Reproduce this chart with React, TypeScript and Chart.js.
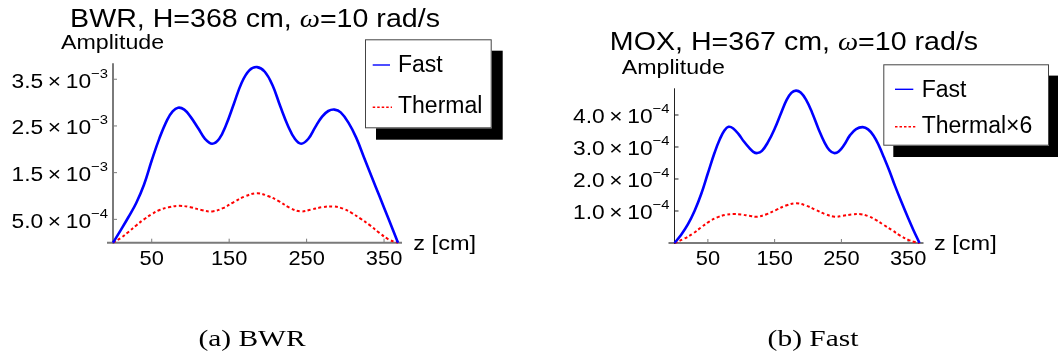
import React, { useEffect, useRef } from "react";
import { Chart, registerables } from "chart.js";

Chart.register(...registerables);

// ---------------- data ----------------
// (a) BWR, H = 368 cm
const bwrFastZ = [0, 10, 20, 30, 40, 50, 60, 70, 77, 84, 92, 100, 110, 119, 128, 137, 146, 156, 166, 176, 186, 196, 206, 216, 226, 235, 243, 252, 261, 270, 278, 286, 294, 304, 314, 324, 334, 344, 356, 368];
const bwrFast = [0, 0.27e-3, 0.55e-3, 0.85e-3, 1.24e-3, 1.76e-3, 2.24e-3, 2.63e-3, 2.81e-3, 2.89e-3, 2.85e-3, 2.7e-3, 2.45e-3, 2.22e-3, 2.12e-3, 2.22e-3, 2.52e-3, 2.97e-3, 3.42e-3, 3.69e-3, 3.76e-3, 3.66e-3, 3.37e-3, 2.92e-3, 2.5e-3, 2.22e-3, 2.12e-3, 2.22e-3, 2.47e-3, 2.7e-3, 2.82e-3, 2.85e-3, 2.79e-3, 2.57e-3, 2.25e-3, 1.83e-3, 1.41e-3, 1.0e-3, 0.5e-3, 0];
const bwrThermalZ = [0, 10, 20, 30, 40, 50, 60, 72, 86, 100, 114, 128, 142, 156, 170, 186, 200, 214, 228, 242, 256, 270, 285, 297, 308, 320, 332, 344, 356, 368];
const bwrThermal = [0, 0.1e-3, 0.23e-3, 0.37e-3, 0.5e-3, 0.61e-3, 0.7e-3, 0.76e-3, 0.79e-3, 0.76e-3, 0.7e-3, 0.67e-3, 0.74e-3, 0.87e-3, 0.99e-3, 1.06e-3, 1.0e-3, 0.89e-3, 0.75e-3, 0.67e-3, 0.71e-3, 0.76e-3, 0.775e-3, 0.73e-3, 0.64e-3, 0.51e-3, 0.37e-3, 0.21e-3, 0.07e-3, 0];
const bwrYTicks = [5e-4, 1.5e-3, 2.5e-3, 3.5e-3];
const bwrYMant = ["5.0", "1.5", "2.5", "3.5"];
const bwrYExp = ["\u22124", "\u22123", "\u22123", "\u22123"];

// (b) MOX, H = 367 cm
const moxFastZ = [0, 10, 20, 30, 40, 50, 60, 68, 75, 81, 88, 96, 104, 112, 118, 124, 131, 140, 150, 160, 168, 175, 182, 189, 197, 206, 216, 225, 232, 239, 246, 254, 263, 272, 282, 290, 298, 306, 314, 322, 330, 340, 350, 358, 367];
const moxFast = [0, 0.26e-4, 0.58e-4, 1.0e-4, 1.53e-4, 2.18e-4, 2.82e-4, 3.25e-4, 3.52e-4, 3.63e-4, 3.58e-4, 3.4e-4, 3.17e-4, 2.97e-4, 2.85e-4, 2.81e-4, 2.88e-4, 3.15e-4, 3.57e-4, 4.08e-4, 4.47e-4, 4.69e-4, 4.76e-4, 4.7e-4, 4.48e-4, 4.08e-4, 3.55e-4, 3.13e-4, 2.9e-4, 2.81e-4, 2.86e-4, 3.06e-4, 3.37e-4, 3.56e-4, 3.62e-4, 3.55e-4, 3.36e-4, 3.05e-4, 2.66e-4, 2.25e-4, 1.8e-4, 1.28e-4, 0.78e-4, 0.4e-4, 0];
const moxThermalZ = [0, 14, 28, 40, 52, 64, 76, 88, 100, 112, 123, 138, 152, 167, 182, 197, 212, 226, 240, 252, 266, 279, 290, 301, 313, 326, 338, 351, 360, 367];
const moxThermal6 = [0, 0.13e-4, 0.3e-4, 0.49e-4, 0.67e-4, 0.8e-4, 0.88e-4, 0.905e-4, 0.89e-4, 0.85e-4, 0.82e-4, 0.9e-4, 1.03e-4, 1.17e-4, 1.24e-4, 1.17e-4, 1.03e-4, 0.9e-4, 0.82e-4, 0.85e-4, 0.89e-4, 0.9e-4, 0.84e-4, 0.73e-4, 0.57e-4, 0.4e-4, 0.23e-4, 0.09e-4, 0.03e-4, 0];
const moxYTicks = [1e-4, 2e-4, 3e-4, 4e-4];
const moxYMant = ["1.0", "2.0", "3.0", "4.0"];
const moxYExp = ["\u22124", "\u22124", "\u22124", "\u22124"];

const xTicks = [50, 150, 250, 350];
const xTickLabels = ["50", "150", "250", "350"];

const FAST_COLOR = "#0000ff";
const THERMAL_COLOR = "#ff0000";
const SANS = "'Liberation Sans', Arial, sans-serif";
const SERIF = "'Liberation Serif', 'Times New Roman', serif";

// ---------------- helpers ----------------
function drawText(ctx: CanvasRenderingContext2D, s: string, x: number, y: number, font: string, align: string, sx = 1, color = "#000") {
  ctx.save();
  ctx.font = font;
  ctx.fillStyle = color;
  ctx.textBaseline = "alphabetic";
  ctx.textAlign = "left";
  const w = ctx.measureText(s).width * sx;
  const x0 = align === "center" ? x - w / 2 : align === "right" ? x - w : x;
  ctx.translate(x0, y);
  ctx.scale(sx, 1);
  ctx.fillText(s, 0, 0);
  ctx.restore();
  return w;
}

function measure(ctx: CanvasRenderingContext2D, s: string, font: string) {
  ctx.save();
  ctx.font = font;
  const w = ctx.measureText(s).width;
  ctx.restore();
  return w;
}

type Spec = {
  name: string;
  zMax: number;
  yMax: number;
  fastZ: number[];
  fast: number[];
  thermZ: number[];
  therm: number[];
  yTicks: number[];
  yMant: string[];
  yExp: string[];
  padding: { left: number; top: number; right: number; bottom: number };
  titlePre: string;
  titleX: number;
  titleY: number;
  ampX: number;
  ampY: number;
  zLabX: number;
  yAxisColor: string;
  yAxisWidth: number;
  legend: {
    x: number; y: number; w: number; h: number; sdx: number; sdy: number;
    sx0: number; sx1: number; tx: number; r1: number; b1: number; r2: number; b2: number;
    labels: string[];
  };
  caption: string;
  captionX: number;
};

function makePlugin(spec: Spec) {
  return {
    id: "decor_" + spec.name,
    beforeDatasetsDraw(chart: any) {
      const ctx: CanvasRenderingContext2D = chart.ctx;
      const a = chart.chartArea;
      const xs = chart.scales.x;
      const ys = chart.scales.y;
      ctx.save();
      // x axis
      ctx.strokeStyle = "#7a7a7a";
      ctx.lineWidth = 2;
      ctx.beginPath();
      ctx.moveTo(a.left - 6, a.bottom);
      ctx.lineTo(a.right + 4, a.bottom);
      ctx.stroke();
      for (const t of xTicks) {
        const px = xs.getPixelForValue(t);
        ctx.lineWidth = 1;
        ctx.beginPath();
        ctx.moveTo(px, a.bottom);
        ctx.lineTo(px, a.bottom - 4);
        ctx.stroke();
      }
      // y axis
      ctx.strokeStyle = spec.yAxisColor;
      ctx.lineWidth = spec.yAxisWidth;
      ctx.beginPath();
      ctx.moveTo(a.left, a.top);
      ctx.lineTo(a.left, a.bottom + 1);
      ctx.stroke();
      ctx.lineWidth = 1;
      for (const t of spec.yTicks) {
        const py = ys.getPixelForValue(t);
        ctx.beginPath();
        ctx.moveTo(a.left, py);
        ctx.lineTo(a.left + 4, py);
        ctx.stroke();
      }
      ctx.restore();
    },
    afterDraw(chart: any) {
      const ctx: CanvasRenderingContext2D = chart.ctx;
      const a = chart.chartArea;
      const xs = chart.scales.x;
      const ys = chart.scales.y;

      // title with italic omega
      const tf = `26px ${SANS}`;
      const tfi = `italic 26px ${SERIF}`;
      const tsx = 1.1;
      const p1 = spec.titlePre;
      const p2 = "\u03c9";
      const p3 = "=10 rad/s";
      const w1 = measure(ctx, p1, tf) * tsx;
      const w2 = measure(ctx, p2, tfi) * tsx;
      const w3 = measure(ctx, p3, tf) * tsx;
      let tx = spec.titleX - (w1 + w2 + w3) / 2;
      drawText(ctx, p1, tx, spec.titleY, tf, "left", tsx);
      tx += w1;
      drawText(ctx, p2, tx, spec.titleY, tfi, "left", tsx);
      tx += w2;
      drawText(ctx, p3, tx, spec.titleY, tf, "left", tsx);

      // axis labels
      drawText(ctx, "Amplitude", spec.ampX, spec.ampY, `20px ${SANS}`, "left", 1.16);
      drawText(ctx, "z [cm]", spec.zLabX, 250, `21px ${SANS}`, "left", 1.12);

      // x tick labels
      xTicks.forEach((t, i) => {
        drawText(ctx, xTickLabels[i], xs.getPixelForValue(t), 265, `21px ${SANS}`, "center", 1.04);
      });

      // y tick labels  m × 10^e
      const mf = `20px ${SANS}`;
      const ef = `13px ${SANS}`;
      const ysx = 1.14;
      spec.yTicks.forEach((t, i) => {
        const py = ys.getPixelForValue(t);
        const main = spec.yMant[i] + "\u2009\u00d7\u200910";
        const wm = measure(ctx, main, mf) * ysx;
        const we = measure(ctx, spec.yExp[i], ef) * ysx;
        const right = a.left - 5;
        drawText(ctx, main, right - we - wm, py + 8.5, mf, "left", ysx);
        drawText(ctx, spec.yExp[i], right - we, py - 1.5, ef, "left", ysx);
      });

      // legend with drop shadow
      const L = spec.legend;
      ctx.save();
      ctx.fillStyle = "#000";
      ctx.fillRect(L.x + L.sdx, L.y + L.sdy, L.w, L.h);
      ctx.fillStyle = "#fff";
      ctx.fillRect(L.x, L.y, L.w, L.h);
      ctx.strokeStyle = "#444";
      ctx.lineWidth = 1;
      ctx.strokeRect(L.x + 0.5, L.y + 0.5, L.w - 1, L.h - 1);
      ctx.strokeStyle = FAST_COLOR;
      ctx.lineWidth = 1.4;
      ctx.beginPath();
      ctx.moveTo(L.x + L.sx0, L.y + L.r1);
      ctx.lineTo(L.x + L.sx1, L.y + L.r1);
      ctx.stroke();
      ctx.strokeStyle = THERMAL_COLOR;
      ctx.lineWidth = 1.6;
      ctx.setLineDash([2.5, 2]);
      ctx.beginPath();
      ctx.moveTo(L.x + L.sx0, L.y + L.r2);
      ctx.lineTo(L.x + L.sx1 + 2, L.y + L.r2);
      ctx.stroke();
      ctx.restore();
      drawText(ctx, L.labels[0], L.x + L.tx, L.y + L.b1, `23px ${SANS}`, "left", 1);
      drawText(ctx, L.labels[1], L.x + L.tx, L.y + L.b2, `23px ${SANS}`, "left", 1);

      // caption
      drawText(ctx, spec.caption, spec.captionX, 346, `23px ${SERIF}`, "center", 1.28);
    },
  };
}

function makeConfig(spec: Spec): any {
  const fastPts = spec.fastZ.map((z, i) => ({ x: z, y: spec.fast[i] }));
  const thermPts = spec.thermZ.map((z, i) => ({ x: z, y: spec.therm[i] }));
  return {
    type: "line",
    data: {
      datasets: [
        {
          label: "Fast",
          data: fastPts,
          borderColor: FAST_COLOR,
          borderWidth: 2.6,
          pointRadius: 0,
          fill: false,
          tension: 0.4,
          clip: false,
        },
        {
          label: spec.legend.labels[1],
          data: thermPts,
          borderColor: THERMAL_COLOR,
          borderWidth: 2,
          borderDash: [3, 2.5],
          pointRadius: 0,
          fill: false,
          tension: 0.4,
          clip: false,
        },
      ],
    },
    options: {
      responsive: false,
      animation: false,
      events: [],
      layout: { padding: spec.padding },
      plugins: { legend: { display: false }, title: { display: false }, tooltip: { enabled: false } },
      scales: {
        x: { type: "linear", min: 0, max: spec.zMax, display: false },
        y: { type: "linear", min: 0, max: spec.yMax, display: false },
      },
    },
    plugins: [makePlugin(spec)],
  };
}

const W = 529;
const H = 358;

const bwrSpec: Spec = {
  name: "bwr",
  zMax: 368,
  yMax: 3.8415e-3,
  fastZ: bwrFastZ,
  fast: bwrFast,
  thermZ: bwrThermalZ,
  therm: bwrThermal,
  yTicks: bwrYTicks,
  yMant: bwrYMant,
  yExp: bwrYExp,
  padding: { left: 113, top: 63.3, right: W - 398, bottom: H - 242.7 },
  titlePre: "BWR, H=368 cm, ",
  titleX: 255,
  titleY: 26.5,
  ampX: 61,
  ampY: 49.3,
  zLabX: 413.3,
  yAxisColor: "#7a7a7a",
  yAxisWidth: 2,
  legend: { x: 365, y: 39.3, w: 126.7, h: 89, sdx: 11, sdy: 11.4, sx0: 7.7, sx1: 25, tx: 33, r1: 25.7, b1: 32.4, r2: 68, b2: 73.4, labels: ["Fast", "Thermal"] },
  caption: "(a) BWR",
  captionX: 252,
};

const moxSpec: Spec = {
  name: "mox",
  zMax: 367,
  yMax: 4.834e-4,
  fastZ: moxFastZ,
  fast: moxFast,
  thermZ: moxThermalZ,
  therm: moxThermal6,
  yTicks: moxYTicks,
  yMant: moxYMant,
  yExp: moxYExp,
  padding: { left: 145.5, top: 88.3, right: W - 390.5, bottom: H - 243 },
  titlePre: "MOX, H=367 cm, ",
  titleX: 265,
  titleY: 50,
  ampX: 92.7,
  ampY: 74,
  zLabX: 405,
  yAxisColor: "#222",
  yAxisWidth: 1,
  legend: { x: 354.3, y: 64.3, w: 165.7, h: 81.4, sdx: 10, sdy: 11.3, sx0: 11.7, sx1: 30, tx: 38.4, r1: 25, b1: 33, r2: 62.4, b2: 69, labels: ["Fast", "Thermal\u00d76"] },
  caption: "(b) Fast",
  captionX: 284,
};

function Panel({ spec, left }: { spec: Spec; left: number }) {
  const ref = useRef<HTMLCanvasElement>(null);
  useEffect(() => {
    const chart = new Chart(ref.current as HTMLCanvasElement, makeConfig(spec));
    return () => chart.destroy();
  }, [spec]);
  return (
    <canvas
      ref={ref}
      width={W}
      height={H}
      style={{ position: "absolute", left, top: 0, width: W, height: H }}
    />
  );
}

export default function App() {
  return (
    <div style={{ position: "absolute", left: 0, top: 0, width: 1058, height: 358, background: "#fff", overflow: "hidden" }}>
      <Panel spec={bwrSpec} left={0} />
      <Panel spec={moxSpec} left={529} />
    </div>
  );
}
